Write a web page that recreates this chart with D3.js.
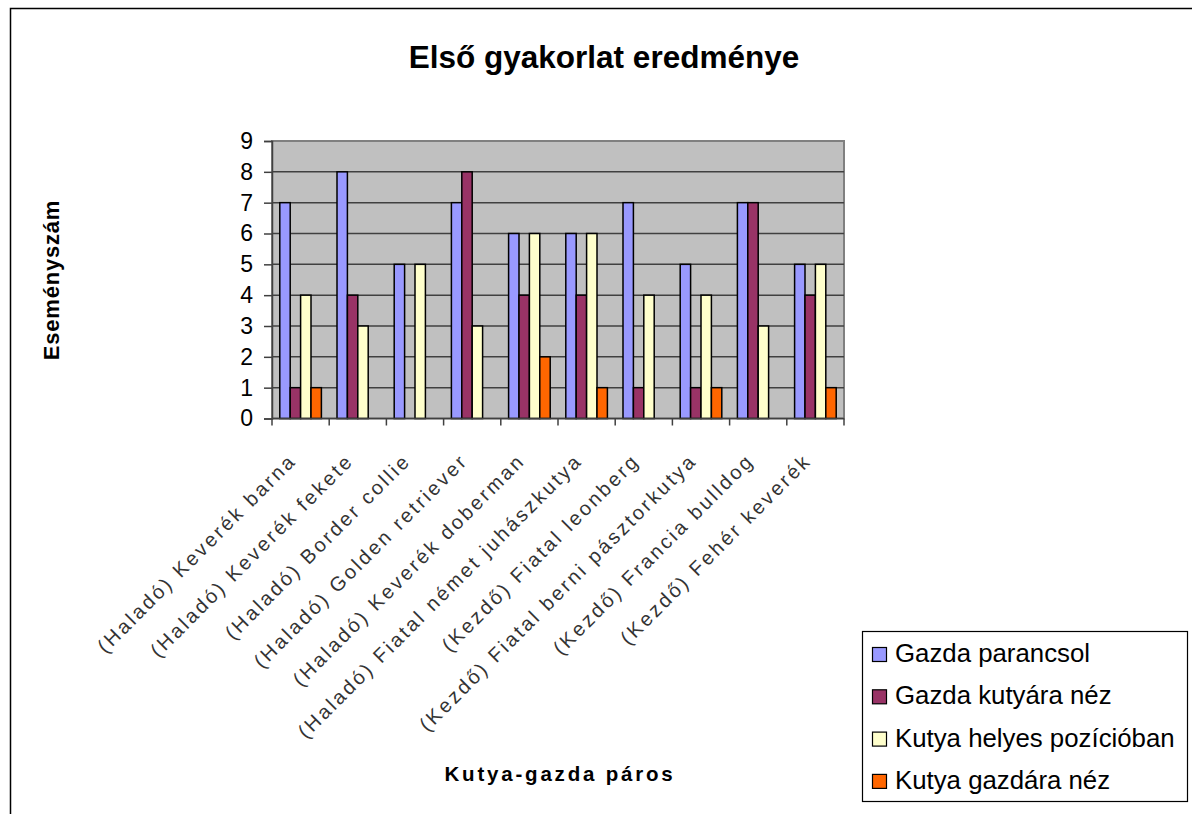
<!DOCTYPE html>
<html>
<head>
<meta charset="utf-8">
<script src="https://cdn.jsdelivr.net/npm/d3@7"></script>
<style>
  body { margin: 0; background: #fff; }
  svg { display: block; font-family: "Liberation Sans", Arial, sans-serif; }
</style>
</head>
<body>
<svg id="chart" width="1192" height="814"></svg>
<script>
var categories = [
  "(Haladó) Keverék barna",
  "(Haladó) Keverék fekete",
  "(Haladó) Border collie",
  "(Haladó) Golden retriever",
  "(Haladó) Keverék doberman",
  "(Haladó) Fiatal német juhászkutya",
  "(Kezdő) Fiatal leonberg",
  "(Kezdő) Fiatal berni pásztorkutya",
  "(Kezdő) Francia bulldog",
  "(Kezdő) Fehér keverék"
];
var seriesNames = [
  "Gazda parancsol",
  "Gazda kutyára néz",
  "Kutya helyes pozícióban",
  "Kutya gazdára néz"
];
var gazdaParancsol = [7, 8, 5, 7, 6, 6, 7, 5, 7, 5];
var gazdaKutyaraNez = [1, 4, 0, 8, 4, 4, 1, 1, 7, 4];
var kutyaHelyes = [4, 3, 5, 3, 6, 6, 4, 4, 3, 5];
var kutyaGazdaraNez = [1, 0, 0, 0, 2, 1, 0, 1, 0, 1];
var yTicks = [0, 1, 2, 3, 4, 5, 6, 7, 8, 9];
var colors = ["#9999FF", "#993366", "#FFFFCC", "#FF6600"];

var seriesValues = [gazdaParancsol, gazdaKutyaraNez, kutyaHelyes, kutyaGazdaraNez];

var svg = d3.select("#chart");

// outer chart border (runs off the right and bottom edges)
svg.append("rect")
  .attr("x", 10.5).attr("y", 8.5)
  .attr("width", 1200).attr("height", 830)
  .attr("fill", "#fff").attr("stroke", "#000").attr("stroke-width", 1.5);

var plotLeft = 272, plotRight = 844, plotTop = 141, plotBottom = 418.5;

var x = d3.scaleBand().domain(categories).range([plotLeft, plotRight]);
// Excel gap width 150%: the four bars take 4/5.5 of each band
var gap = x.bandwidth() * 0.75 / 5.5;
var xs = d3.scaleBand().domain(seriesNames).range([gap, x.bandwidth() - gap]);

var y = d3.scaleLinear().domain([0, 9]).range([plotBottom, plotTop]);

// plot area
svg.append("rect")
  .attr("x", plotLeft).attr("y", plotTop)
  .attr("width", plotRight - plotLeft).attr("height", plotBottom - plotTop)
  .attr("fill", "#C0C0C0").attr("stroke", "#808080").attr("stroke-width", 2);

// gridlines
svg.append("g")
  .selectAll("line")
  .data(yTicks.slice(1, -1))
  .enter().append("line")
  .attr("x1", plotLeft).attr("x2", plotRight)
  .attr("y1", d => y(d)).attr("y2", d => y(d))
  .attr("stroke", "#404040").attr("stroke-width", 1.5);

// bars
var groups = svg.append("g")
  .selectAll("g")
  .data(categories)
  .enter().append("g")
  .attr("transform", d => "translate(" + x(d) + ",0)");

groups.selectAll("rect")
  .data((c, i) => seriesNames.map((s, j) => ({ s: s, v: seriesValues[j][i], c: colors[j] })).filter(d => d.v > 0))
  .enter().append("rect")
  .attr("x", d => xs(d.s))
  .attr("y", d => y(d.v))
  .attr("width", xs.bandwidth())
  .attr("height", d => y(0) - y(d.v))
  .attr("fill", d => d.c)
  .attr("stroke", "#000")
  .attr("stroke-width", 1.5);

// y axis
var yAxis = d3.axisLeft(y).tickValues(yTicks).tickSize(8).tickPadding(11);
var gy = svg.append("g").attr("transform", "translate(" + plotLeft + ",0)").call(yAxis);
gy.select(".domain").attr("stroke", "#404040").attr("stroke-width", 1.5);
gy.selectAll(".tick line").attr("stroke", "#404040").attr("stroke-width", 1.5);
gy.selectAll("text")
  .attr("font-family", "Liberation Sans, Arial, sans-serif")
  .attr("font-size", 23).attr("fill", "#000");

// x axis: ticks at category boundaries
svg.append("line")
  .attr("x1", plotLeft).attr("x2", plotRight)
  .attr("y1", plotBottom).attr("y2", plotBottom)
  .attr("stroke", "#404040").attr("stroke-width", 1.5);
svg.append("g")
  .selectAll("line")
  .data(d3.range(categories.length + 1))
  .enter().append("line")
  .attr("x1", i => plotLeft + i * x.step()).attr("x2", i => plotLeft + i * x.step())
  .attr("y1", plotBottom).attr("y2", plotBottom + 7)
  .attr("stroke", "#404040").attr("stroke-width", 1.5);

// category labels, rotated
svg.append("g")
  .selectAll("text")
  .data(categories)
  .enter().append("text")
  .attr("transform", d => "translate(" + (x(d) + x.bandwidth() / 2 - 3) + "," + 462 + ") rotate(-45)")
  .attr("text-anchor", "end")
  .attr("font-size", 20)
  .attr("letter-spacing", 2.7)
  .attr("fill", "#333")
  .text(d => d);

// titles
svg.append("text")
  .attr("x", 604).attr("y", 68)
  .attr("text-anchor", "middle")
  .attr("font-size", 31.5).attr("font-weight", "bold")
  .text("Első gyakorlat eredménye");

svg.append("text")
  .attr("transform", "translate(59,280) rotate(-90)")
  .attr("text-anchor", "middle")
  .attr("font-size", 22).attr("font-weight", "bold")
  .attr("letter-spacing", 0.8)
  .text("Eseményszám");

svg.append("text")
  .attr("x", 560).attr("y", 781)
  .attr("text-anchor", "middle")
  .attr("font-size", 20.5).attr("font-weight", "bold")
  .attr("letter-spacing", 2.8)
  .text("Kutya-gazda páros");

// legend
var legend = svg.append("g");
legend.append("rect")
  .attr("x", 862.5).attr("y", 631.5)
  .attr("width", 325).attr("height", 170)
  .attr("fill", "#fff").attr("stroke", "#000").attr("stroke-width", 1.2);

var items = legend.selectAll("g.item")
  .data(seriesNames)
  .enter().append("g")
  .attr("class", "item")
  .attr("transform", (d, i) => "translate(872," + (653 + i * 42.3) + ")");

items.append("rect")
  .attr("x", 0.5).attr("y", -5.5)
  .attr("width", 14).attr("height", 14)
  .attr("fill", (d, i) => colors[i])
  .attr("stroke", "#000").attr("stroke-width", 1.2);

items.append("text")
  .attr("x", 23).attr("y", 9)
  .attr("font-size", 25.8)
  .attr("fill", "#000")
  .text(d => d);
</script>
</body>
</html>
